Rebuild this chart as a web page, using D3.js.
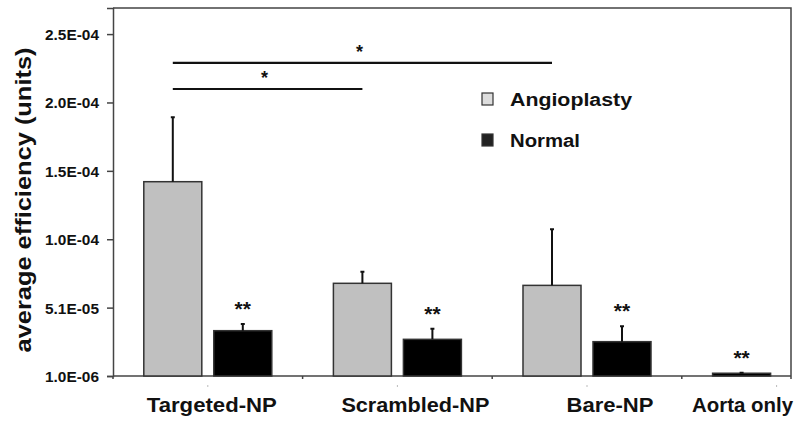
<!DOCTYPE html>
<html>
<head>
<meta charset="utf-8">
<script src="https://cdn.jsdelivr.net/npm/d3@7"></script>
<style>
  body { margin: 0; background: #fff; }
  text { font-family: Arial, "Liberation Sans", sans-serif; fill: #111; }
</style>
</head>
<body>
<svg id="chart" width="801" height="422"></svg>
<script>
// data
var categories = ['Targeted-NP', 'Scrambled-NP', 'Bare-NP', 'Aorta only'];
var seriesNames = ['Angioplasty', 'Normal'];
var angioplasty = [1.425e-4, 6.85e-5, 6.70e-5, null];
var angioplastyErr = [4.69e-5, 0.84e-5, 4.08e-5, null];
var normal = [3.40e-5, 2.77e-5, 2.60e-5, 3.0e-6];
var normalErr = [0.49e-5, 0.77e-5, 1.12e-5, 0.3e-6];
var normalMarks = ['**', '**', '**', '**'];
var yTicks = [1.0e-6, 5.08e-5, 1.006e-4, 1.504e-4, 2.002e-4, 2.5e-4];
var yTickLabels = ['1.0E-06', '5.1E-05', '1.0E-04', '1.5E-04', '2.0E-04', '2.5E-04'];
var compFrom = ['Targeted-NP', 'Targeted-NP'];
var compTo = ['Bare-NP', 'Scrambled-NP'];
var compLevel = [2.29e-4, 2.10e-4];
var compMark = ['*', '*'];

var Chart = {
	left: 113, right: 791, top: 8, bottom: 376,
	groupWidth: 189.6,
	colors: { Angioplasty: '#c0c0c0', Normal: '#000' },
	labelShift: [4, 18, 23, -34],
	labelWidth: [130, 148, 87, 101],

	draw: function() {
		const self = this;
		var svg = d3.select('#chart');

		var x = d3.scaleBand()
			.domain(categories)
			.range([ self.left, self.left + self.groupWidth * categories.length ]);
		var xSub = d3.scaleBand()
			.domain(seriesNames)
			.range([ 0, self.groupWidth ])
			.paddingInner(0.1714)
			.paddingOuter(0.44);
		var y = d3.scaleLinear()
			.domain([ 1.0e-6, 2.69e-4 ])
			.range([ self.bottom, self.top ]);

		// frame
		svg.append('path')
			.attr('d', 'M' + self.left + ',' + self.top + 'H' + self.right + 'V' + (self.bottom + 3))
			.style('fill', 'none').style('stroke', '#444').style('stroke-width', 1.5);

		// y axis
		var yAxis = svg.append('g')
			.attr('transform', 'translate(' + self.left + ',0)')
			.call(d3.axisLeft(y).tickValues(yTicks).tickSize(6).tickFormat(function(d, i) { return yTickLabels[i]; }));
		yAxis.select('.domain').style('stroke', '#444').style('stroke-width', 1.5);
		yAxis.selectAll('.tick line').style('stroke', '#444').style('stroke-width', 1.5);
		yAxis.selectAll('.tick text')
			.attr('x', -14).attr('dy', '0.36em')
			.attr('textLength', 54).attr('lengthAdjust', 'spacingAndGlyphs')
			.style('font-size', '15px').style('font-weight', 'bold')
			.style('font-family', 'Arial, "Liberation Sans", sans-serif').style('fill', '#111');

		// x axis line + group ticks
		svg.append('line')
			.attr('x1', self.left).attr('x2', self.right)
			.attr('y1', self.bottom).attr('y2', self.bottom)
			.style('stroke', '#444').style('stroke-width', 1.5);
		svg.selectAll('.gtick').data(categories).enter().append('line')
			.attr('class', 'gtick')
			.attr('x1', function(d) { return x(d); }).attr('x2', function(d) { return x(d); })
			.attr('y1', self.bottom).attr('y2', self.bottom + 3)
			.style('stroke', '#444').style('stroke-width', 1.5);
		svg.selectAll('.ctick').data(categories).enter().append('line')
			.attr('class', 'ctick')
			.attr('x1', function(d) { return x(d) + x.bandwidth() / 2; })
			.attr('x2', function(d) { return x(d) + x.bandwidth() / 2; })
			.attr('y1', self.bottom + 9).attr('y2', self.bottom + 11)
			.style('stroke', '#bbb').style('stroke-width', 1);

		// bars
		var rows = [];
		categories.forEach(function(c, i) {
			if (angioplasty[i] != null) rows.push({ cat: c, s: 'Angioplasty', slot: 'Angioplasty', v: angioplasty[i], e: angioplastyErr[i], mark: null });
			rows.push({ cat: c, s: 'Normal', slot: angioplasty[i] != null ? 'Normal' : 'Angioplasty', v: normal[i], e: normalErr[i], mark: normalMarks[i] });
		});
		var bx = function(d) { return x(d.cat) + xSub(d.slot); };
		var cx = function(d) { return bx(d) + xSub.bandwidth() / 2; };

		svg.selectAll('.bar').data(rows).enter().append('rect')
			.attr('class', 'bar')
			.attr('x', bx)
			.attr('y', function(d) { return y(d.v); })
			.attr('width', xSub.bandwidth())
			.attr('height', function(d) { return y(1.0e-6) - y(d.v); })
			.style('fill', function(d) { return self.colors[d.s]; })
			.style('stroke', '#333').style('stroke-width', 1.5);

		// error bars
		svg.selectAll('.err').data(rows).enter().append('path')
			.attr('class', 'err')
			.attr('d', function(d) {
				var c = cx(d), t = y(d.v + d.e);
				return 'M' + c + ',' + y(d.v) + 'V' + t + 'M' + (c - 2) + ',' + t + 'H' + (c + 2);
			})
			.style('fill', 'none').style('stroke', '#111').style('stroke-width', 2);

		svg.selectAll('.mark').data(rows.filter(function(d) { return d.mark; })).enter().append('text')
			.attr('class', 'mark')
			.attr('x', cx)
			.attr('y', function(d) { return y(d.v + d.e) - 20 + 12; })
			.attr('text-anchor', 'middle')
			.style('font-size', '21px').style('font-weight', 'bold')
			.text(function(d) { return d.mark; });

		// comparison lines
		var comps = compFrom.map(function(f, i) {
			return { x1: x(f) + xSub('Angioplasty') + xSub.bandwidth() / 2,
				x2: x(compTo[i]) + xSub('Angioplasty') + xSub.bandwidth() / 2,
				yv: y(compLevel[i]), mark: compMark[i] };
		});
		svg.selectAll('.comp').data(comps).enter().append('line')
			.attr('class', 'comp')
			.attr('x1', function(d) { return d.x1; }).attr('x2', function(d) { return d.x2; })
			.attr('y1', function(d) { return d.yv; }).attr('y2', function(d) { return d.yv; })
			.style('stroke', '#111').style('stroke-width', 2.2);
		svg.selectAll('.compmark').data(comps).enter().append('text')
			.attr('class', 'compmark')
			.attr('x', function(d) { return (d.x1 + d.x2) / 2 - 3; })
			.attr('y', function(d) { return d.yv - 15 + 10; })
			.attr('text-anchor', 'middle')
			.style('font-size', '18px').style('font-weight', 'bold')
			.text(function(d) { return d.mark; });

		// category labels
		svg.selectAll('.clabel').data(categories).enter().append('text')
			.attr('class', 'clabel')
			.attr('x', function(d, i) { return x(d) + x.bandwidth() / 2 + self.labelShift[i]; })
			.attr('y', 412)
			.attr('text-anchor', 'middle')
			.attr('textLength', function(d, i) { return self.labelWidth[i]; })
			.attr('lengthAdjust', 'spacingAndGlyphs')
			.style('font-size', '21px').style('font-weight', 'bold')
			.text(function(d) { return d; });

		// y title
		svg.append('text')
			.attr('transform', 'translate(31,200) rotate(-90)')
			.attr('text-anchor', 'middle')
			.attr('textLength', 305).attr('lengthAdjust', 'spacingAndGlyphs')
			.style('font-size', '22px').style('font-weight', 'bold')
			.text('average efficiency (units)');

		// legend
		var legend = svg.selectAll('.legend').data(seriesNames).enter().append('g')
			.attr('class', 'legend')
			.attr('transform', function(d, i) { return 'translate(482,' + (93 + i * 41) + ')'; });
		legend.append('rect')
			.attr('width', 11).attr('height', 12)
			.style('fill', function(d) { return d === 'Normal' ? '#222' : '#ddd'; })
			.style('stroke', '#333').style('stroke-width', 1.2);
		legend.append('text')
			.attr('x', 28).attr('y', 13)
			.attr('textLength', function(d) { return d === 'Normal' ? 70 : 122; })
			.attr('lengthAdjust', 'spacingAndGlyphs')
			.style('font-size', '18px').style('font-weight', 'bold')
			.text(function(d) { return d; });
	}
};

Chart.draw();
</script>
</body>
</html>
